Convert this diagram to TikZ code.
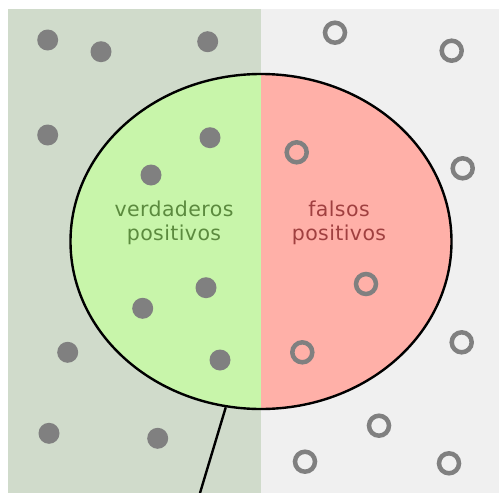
\documentclass[tikz,border=0pt]{standalone}
\usepackage{fontspec}
\setmainfont{DejaVu Sans}[LetterSpace=2]
\usetikzlibrary{shapes.geometric}
\definecolor{leftbg}{HTML}{D0DBCB}
\definecolor{rightbg}{HTML}{F0F0F0}
\definecolor{selgreen}{HTML}{C8F5AA}
\definecolor{selred}{HTML}{FFB0A8}
\definecolor{dotgray}{HTML}{808080}
\definecolor{txtgreen}{HTML}{5B8A3E}
\definecolor{txtred}{HTML}{A04040}
\tikzset{
  filleddot/.style={circle,fill=dotgray,inner sep=0pt,minimum size=21pt},
  opendot/.style={circle,draw=dotgray,line width=4.5pt,inner sep=0pt,minimum size=20pt},
  lbl/.style={align=center,font=\fontsize{20.5}{24}\selectfont},
}
\begin{document}
\begin{tikzpicture}[x=1pt,y=-1pt]
\useasboundingbox (0,0) rectangle (499,493);
\fill[white] (0,0) rectangle (499,493);
\fill[leftbg] (8,9) rectangle (261,493);
\fill[rightbg] (261,9) rectangle (499,493);
\node[ellipse,draw=black,line width=2.4pt,minimum width=381pt,minimum height=335pt,inner sep=0pt,
  path picture={
    \fill[selgreen] (path picture bounding box.south west) rectangle (path picture bounding box.north);
    \fill[selred] (path picture bounding box.south) rectangle (path picture bounding box.north east);
  }] (sel) at (261,241.5) {};
\coordinate (lineend) at (200,493);
\draw[line width=2.4pt] (sel.258) -- (lineend);
\node[lbl,text=txtgreen] (tp) at (174,223) {verdaderos\\positivos};
\node[lbl,text=txtred] (fp) at (339,223) {falsos\\positivos};
% filled dots
\node[filleddot] (d1) at (47.7,40) {};
\node[filleddot] (d2) at (101,51.7) {};
\node[filleddot] (d3) at (207.7,41.7) {};
\node[filleddot] (d4) at (47.7,135) {};
\node[filleddot] (d5) at (210,137.7) {};
\node[filleddot] (d6) at (151,175) {};
\node[filleddot] (d7) at (142.7,308.3) {};
\node[filleddot] (d8) at (206,287.7) {};
\node[filleddot] (d9) at (220,360) {};
\node[filleddot] (d10) at (67.7,352.3) {};
\node[filleddot] (d11) at (49,433.3) {};
\node[filleddot] (d12) at (157.7,438.3) {};
% open dots
\node[opendot] (o1) at (335,32.7) {};
\node[opendot] (o2) at (451.7,50.7) {};
\node[opendot] (o3) at (296.7,152.3) {};
\node[opendot] (o4) at (462.7,168.3) {};
\node[opendot] (o5) at (366,284) {};
\node[opendot] (o6) at (302.3,352.3) {};
\node[opendot] (o7) at (461.7,342.3) {};
\node[opendot] (o8) at (379,425.7) {};
\node[opendot] (o9) at (305,461.7) {};
\node[opendot] (o10) at (449,463.3) {};
\end{tikzpicture}
\end{document}
